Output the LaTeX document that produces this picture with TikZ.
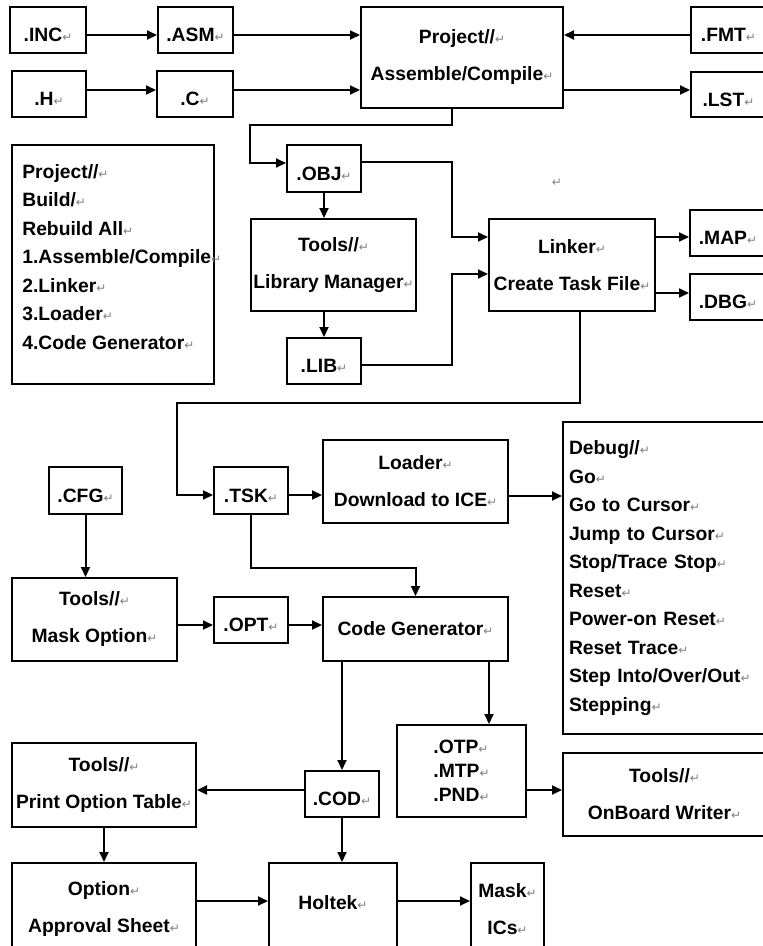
\documentclass[tikz,border=0pt]{standalone}
\usepackage{fontspec}
\setmainfont{Liberation Sans}
\newfontfamily\markfont{DejaVu Sans}
\usetikzlibrary{arrows.meta}
\newcommand\retmark{{\markfont\mdseries\fontsize{12}{12}\selectfont\color{gray}↵}}

\begin{document}
\begin{tikzpicture}[x=1pt, y=-1pt, line width=2pt,
  font=\fontsize{19.3}{37}\selectfont\bfseries,
  blk/.style={draw, inner sep=0pt, align=center},
  tag/.style={blk, text height=23pt, text depth=0pt},
  sz/.style 2 args={minimum width=#1pt, minimum height=#2pt},
  arr/.style={-{Triangle[length=10pt,width=9pt]}}]
	\useasboundingbox (0,0) rectangle (763,946);
	\clip (0,0) rectangle (763,946);
	\node[tag, sz={76}{46}] (inc) at (48,30) {.INC\retmark};
	\node[tag, sz={75}{46}] (asm) at (195.5,30) {.ASM\retmark};
	\node[tag, sz={74}{46}] (hh) at (49,94) {.H\retmark};
	\node[tag, sz={76}{46}] (cc) at (195,94) {.C\retmark};
	\node[blk, sz={202}{101}] (proj) at (462,57.5) {Project//\retmark\\Assemble/Compile\retmark};
	\node[tag, sz={75}{46}] (fmt) at (728.5,30) {.FMT\retmark};
	\node[tag, sz={75}{45}] (lst) at (728.5,94.5) {.LST\retmark};
	\node[draw, sz={202}{239}] (build) at (113,264.5) {};
	\node[anchor=north west, align=left, font=\fontsize{19.3}{28.5}\selectfont\bfseries] (buildtxt) at (18,160)
	  {Project//\retmark\\Build/\retmark\\Rebuild All\retmark\\1.Assemble/Compile\retmark\\2.Linker\retmark\\3.Loader\retmark\\4.Code Generator\retmark};
	\node[tag, sz={74}{47}] (obj) at (324,168.5) {.OBJ\retmark};
	\node[blk, sz={165}{92}] (libm) at (333.5,265) {Tools//\retmark\\Library Manager\retmark};
	\node[tag, sz={74}{46}] (lib) at (324,361) {.LIB\retmark};
	\node[blk, sz={166}{92}] (linker) at (572,265) {Linker\retmark\\Create Task File\retmark};
	\node[tag, sz={76}{46}] (map) at (728,233) {.MAP\retmark};
	\node[tag, sz={76}{46}] (dbg) at (728,297) {.DBG\retmark};
	\node (stray) at (557,183) {\retmark};
	\node[tag, sz={74}{47}] (tsk) at (251,490.5) {.TSK\retmark};
	\node[tag, sz={73}{47}] (cfg) at (85.5,490.5) {.CFG\retmark};
	\node[blk, sz={185}{83}] (loader) at (415.5,481.5) {Loader\retmark\\Download to ICE\retmark};
	\node[blk, sz={203}{312}, align=left, text width=191pt, inner xsep=6pt, font=\fontsize{19.3}{28.5}\selectfont\bfseries] (debug) at (664.5,578)
	  {Debug//\retmark\\Go\retmark\\Go to Cursor\retmark\\Jump to Cursor\retmark\\Stop/Trace Stop\retmark\\Reset\retmark\\Power-on Reset\retmark\\Reset Trace\retmark\\Step Into/Over/Out\retmark\\Stepping\retmark};
	\node[blk, sz={165}{83}] (mask) at (94.5,619.5) {Tools//\retmark\\Mask Option\retmark};
	\node[tag, sz={74}{46}] (opt) at (251,620) {.OPT\retmark};
	\node[blk, sz={185}{64}] (codegen) at (415.5,629) {Code Generator\retmark};
	\node[blk, sz={129}{92}, align=left, font=\fontsize{19.3}{24}\selectfont\bfseries] (otp) at (461.5,771) {.OTP\retmark\\.MTP\retmark\\.PND\retmark};
	\node[blk, sz={203}{83}] (onboard) at (664.5,794.5) {Tools//\retmark\\OnBoard Writer\retmark};
	\node[tag, sz={74}{46}] (cod) at (342,794) {.COD\retmark};
	\node[blk, sz={184}{84}] (print) at (104,785) {Tools//\retmark\\Print Option Table\retmark};
	\node[blk, sz={184}{92}] (option) at (104,909) {Option\retmark\\Approval Sheet\retmark};
	\node[blk, sz={128}{92}, text depth=14pt] (holtek) at (333,909) {Holtek\retmark};
	\node[blk, sz={73}{92}] (maskic) at (507.5,909) {Mask\retmark\\ICs\retmark};
	\coordinate (bendA) at (250,125);
	\coordinate (bendB) at (452,237);
	\coordinate (bendC) at (452,274);
	\coordinate (bendD) at (177,403);
	\coordinate (bendE) at (415.5,568);
	\draw[arr] ([yshift=-5pt]inc.east) -- ([yshift=-5pt]asm.west);
	\draw[arr] ([yshift=-5pt]asm.east) -- ([yshift=-5pt]asm.east -| proj.west);
	\draw[arr] ([yshift=4pt]hh.east) -- ([yshift=4pt]hh.east -| cc.west);
	\draw[arr] ([yshift=4pt]cc.east) -- ([yshift=4pt]cc.east -| proj.west);
	\draw[arr] ([yshift=-5pt]fmt.west) -- ([yshift=-5pt]fmt.west -| proj.east);
	\draw[arr] ([yshift=4.5pt]lst.west -| proj.east) -- ([yshift=4.5pt]lst.west);
	\draw[arr] ([xshift=-10pt]proj.south) |- (bendA) |- ([yshift=5.5pt]obj.west);
	\draw[arr] (obj.south) -- (obj.south |- libm.north);
	\draw[arr] (lib.north |- libm.south) -- (lib.north);
	\draw[arr] ([yshift=6.5pt]obj.east) -| (bendB) -- ([yshift=28pt]linker.west);
	\draw[arr] ([yshift=-4pt]lib.east) -| (bendC) -- ([yshift=-9pt]linker.west);
	\draw[arr] ([yshift=28pt]linker.east) -- ([yshift=28pt]linker.east -| map.west);
	\draw[arr] ([yshift=-28pt]linker.east) -- ([yshift=-28pt]linker.east -| dbg.west);
	\draw[arr] ([xshift=8pt]linker.south) |- (bendD) |- ([yshift=-4.5pt]tsk.west);
	\draw[arr] ([yshift=-4.5pt]tsk.east) -- ([yshift=-4.5pt]tsk.east -| loader.west);
	\draw[arr] ([yshift=-14.5pt]loader.east) -- ([yshift=-14.5pt]loader.east -| debug.west);
	\draw[arr] (tsk.south) |- (bendE) -- (codegen.north);
	\draw[arr] (cfg.south) -- (cfg.south |- mask.north);
	\draw[arr] ([yshift=-5.5pt]mask.east) -- ([yshift=-5.5pt]mask.east -| opt.west);
	\draw[arr] ([yshift=-5pt]opt.east) -- ([yshift=-5pt]opt.east -| codegen.west);
	\draw[arr] (cod.north |- codegen.south) -- (cod.north);
	\draw[arr] ([xshift=73.5pt]codegen.south) -- ([xshift=73.5pt]codegen.south |- otp.north);
	\draw[arr] ([yshift=-19pt]otp.east) -- ([yshift=-19pt]otp.east -| onboard.west);
	\draw[arr] ([yshift=4pt]cod.west) -- ([yshift=4pt]cod.west -| print.east);
	\draw[arr] (cod.south) -- (cod.south |- holtek.north);
	\draw[arr] (print.south) -- (print.south |- option.north);
	\draw[arr] ([yshift=8pt]option.east) -- ([yshift=8pt]option.east -| holtek.west);
	\draw[arr] ([yshift=8pt]holtek.east) -- ([yshift=8pt]holtek.east -| maskic.west);
\end{tikzpicture}
\end{document}
